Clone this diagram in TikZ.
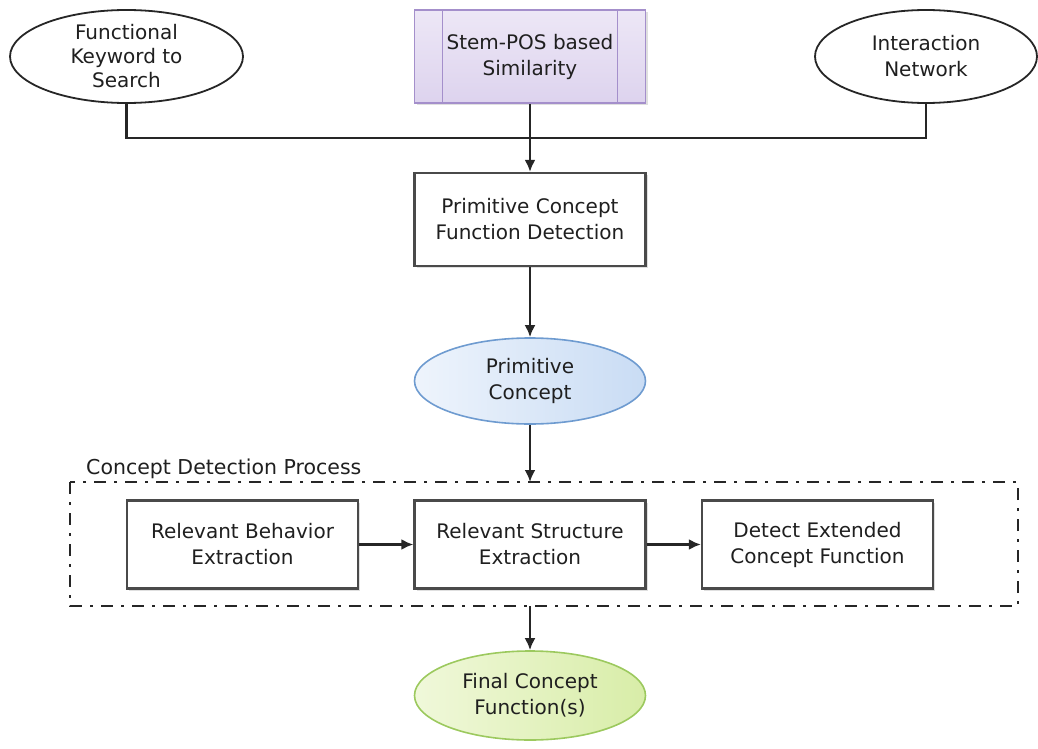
\documentclass[tikz,border=0pt]{standalone}
\usepackage{fontspec}
\setmainfont{DejaVu Sans}
\usetikzlibrary{shapes.geometric,arrows.meta,shadows,positioning}
\definecolor{boxline}{HTML}{4A4A4A}
\definecolor{lavfill}{HTML}{EDE7F6}
\definecolor{lavfilldark}{HTML}{DDD3EE}
\definecolor{lavline}{HTML}{A48FCB}
\definecolor{bluefill}{HTML}{EEF4FC}
\definecolor{bluefilldark}{HTML}{C9DCF4}
\definecolor{blueline}{HTML}{6E9BD0}
\definecolor{greenfill}{HTML}{F0F8DA}
\definecolor{greenfilldark}{HTML}{D8EDA8}
\definecolor{greenline}{HTML}{9CC95E}
\tikzset{
  txt/.style={font=\fontsize{20}{26}\selectfont, align=center, text=black!88},
  procbox/.style={txt, draw=boxline, line width=2.2pt, fill=white,
    minimum width=231pt, minimum height=88pt, inner sep=0pt,
    drop shadow={shadow xshift=2pt, shadow yshift=-2pt, opacity=0.25}},
  inputell/.style={txt, ellipse, draw=black!85, line width=1.8pt, fill=white,
    inner sep=0pt},
  flow/.style={line width=2.6pt, draw=black!85},
  arr/.style={flow, -{Latex[length=12pt,width=11pt]}},
  dashdot/.style={line width=2.6pt, draw=black!85,
    dash pattern=on 12pt off 8pt on 3pt off 8pt},
}
\begin{document}
\begin{tikzpicture}[x=1pt,y=-1pt]
\useasboundingbox (0,0) rectangle (1038,749);

% inputs
\node[inputell, minimum width=233pt, minimum height=93pt] (kw) at (126.5,56.5)
  {Functional\\[-2pt]Keyword to\\[-2pt]Search};
\node[inputell, minimum width=222pt, minimum height=93pt] (net) at (926,56.5)
  {Interaction\\Network};

% predefined-process box
\node[txt, draw=lavline, line width=1.8pt, top color=lavfill, bottom color=lavfilldark,
  minimum width=231pt, minimum height=93pt, inner sep=0pt,
  drop shadow={shadow xshift=2pt, shadow yshift=-2pt, opacity=0.25}]
  (stem) at (530,56.5) {Stem-POS based\\Similarity};
\draw[lavline, line width=1.5pt] ([xshift=29pt]stem.north west) -- ([xshift=29pt]stem.south west);
\draw[lavline, line width=1.5pt] ([xshift=-29pt]stem.north east) -- ([xshift=-29pt]stem.south east);

% merge line
\coordinate (join) at (530,138);
\draw[flow] (kw.south) |- (join) -| (net.south);
\draw[flow] (stem.south) -- (join);

% primitive detection
\node[procbox, minimum height=93pt] (pcfd) at (530,219.5)
  {Primitive Concept\\Function Detection};
\draw[arr] (join) -- (pcfd.north);

\node[txt, ellipse, draw=blueline, line width=1.6pt, inner sep=0pt,
  left color=bluefill, right color=bluefilldark,
  minimum width=231pt, minimum height=86pt] (pc) at (530,381) {Primitive\\Concept};
\draw[arr] (pcfd.south) -- (pc.north);

% concept detection process group
\draw[dashdot] (70,482) rectangle (1018,606);
\coordinate (grptop) at (530,482);
\coordinate (grpbot) at (530,606);
\node[font=\fontsize{20.5}{22}\selectfont, text=black!88, anchor=base west, inner sep=0pt]
  (grplabel) at (86,474) {Concept Detection Process};
\draw[arr] (pc.south) -- (grptop);

\node[procbox] (rbe) at (242.5,544.5) {Relevant Behavior\\Extraction};
\node[procbox] (rse) at (530,544.5) {Relevant Structure\\Extraction};
\node[procbox] (dec) at (817.5,544.5) {Detect Extended\\Concept Function};
\draw[arr] (rbe) -- (rse);
\draw[arr] (rse) -- (dec);

% result
\node[txt, ellipse, draw=greenline, line width=1.6pt, inner sep=0pt,
  left color=greenfill, right color=greenfilldark,
  minimum width=231pt, minimum height=89pt] (fcf) at (530,695.5) {Final Concept\\Function(s)};
\draw[arr] (grpbot) -- (fcf.north);
\end{tikzpicture}
\end{document}
